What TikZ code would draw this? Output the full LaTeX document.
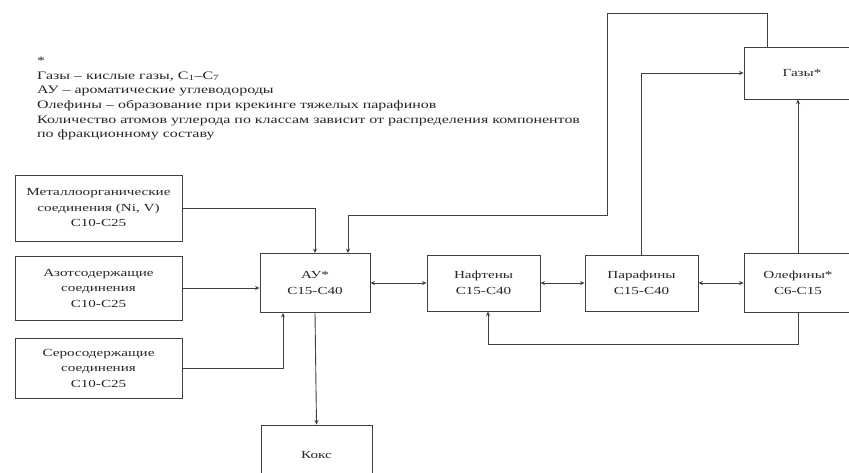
\documentclass[tikz,border=0pt]{standalone}
\usepackage{fontspec}
\setmainfont{Liberation Serif}[FakeStretch=1.4]
\usetikzlibrary{arrows.meta}
\begin{document}
\begin{tikzpicture}[x=1pt,y=-1pt,
  box/.style={draw=black!75,line width=0.9pt,rectangle,align=center,inner sep=0pt,
    font=\fontsize{10.8}{15.5}\selectfont,text=black!85},
  arr/.style={draw=black!75,line width=0.9pt,-{Stealth[length=4.5pt,width=4pt]}},
  darr/.style={draw=black!75,line width=0.9pt,{Stealth[length=4.5pt,width=4pt]}-{Stealth[length=4.5pt,width=4pt]}},
  ln/.style={draw=black!75,line width=0.9pt}]
\useasboundingbox (0,0) rectangle (849,472);
\clip (0,0) rectangle (849,472);
\fill[white] (0,0) rectangle (849,472);

\node[anchor=north west,align=left,inner sep=0pt,font=\fontsize{11.4}{14.6}\selectfont,text=black!85] (note) at (37,57)
 {*\\Газы – кислые газы, C\textsubscript{1}–C\textsubscript{7}\\АУ – ароматические углеводороды\\Олефины – образование при крекинге тяжелых парафинов\\Количество атомов углерода по классам зависит от распределения компонентов\\по фракционному составу};

\node[box,minimum width=167,minimum height=66] (metal) at (98.5,208) {Металлоорганические\\соединения (Ni, V)\\C10-C25};
\node[box,minimum width=167,minimum height=64] (azot) at (98.5,288) {Азотсодержащие\\соединения\\C10-C25};
\node[box,minimum width=167,minimum height=60] (sero) at (98.5,368) {Серосодержащие\\соединения\\C10-C25};
\node[box,minimum width=110,minimum height=59] (au) at (315,283) {АУ*\\C15-C40};
\node[box,minimum width=111,minimum height=60] (koks) at (316.5,455) {Кокс};
\node[box,minimum width=113,minimum height=56] (naph) at (483.5,283) {Нафтены\\C15-C40};
\node[box,minimum width=113,minimum height=56] (para) at (641.5,283) {Парафины\\C15-C40};
\node[box,minimum width=108,minimum height=59] (olef) at (798,283) {Олефины*\\C6-C15};
\node[box,minimum width=116,minimum height=52] (gases) at (802,73) {Газы*};

\draw[arr] (metal.east) -| (au.north);
\draw[arr] ([xshift=-35pt]gases.north) |- (607,13) |- (348,215) -- ([xshift=33pt]au.north);
\draw[arr] (azot.east) -- (azot.east -| au.west);
\draw[arr] (sero.east) -| ([xshift=-32pt]au.south);
\draw[arr] (au.south) -- (koks.north);
\draw[darr] (au.east) -- (naph.west);
\draw[darr] (naph.east) -- (para.west);
\draw[darr] (para.east) -- (olef.west);
\draw[arr] (para.north) |- (gases.west);
\draw[arr] (olef.north) -- (olef.north |- gases.south);
\draw[arr] (olef.south) -- ++(0,31) -| ([xshift=4.5pt]naph.south);
\end{tikzpicture}
\end{document}
